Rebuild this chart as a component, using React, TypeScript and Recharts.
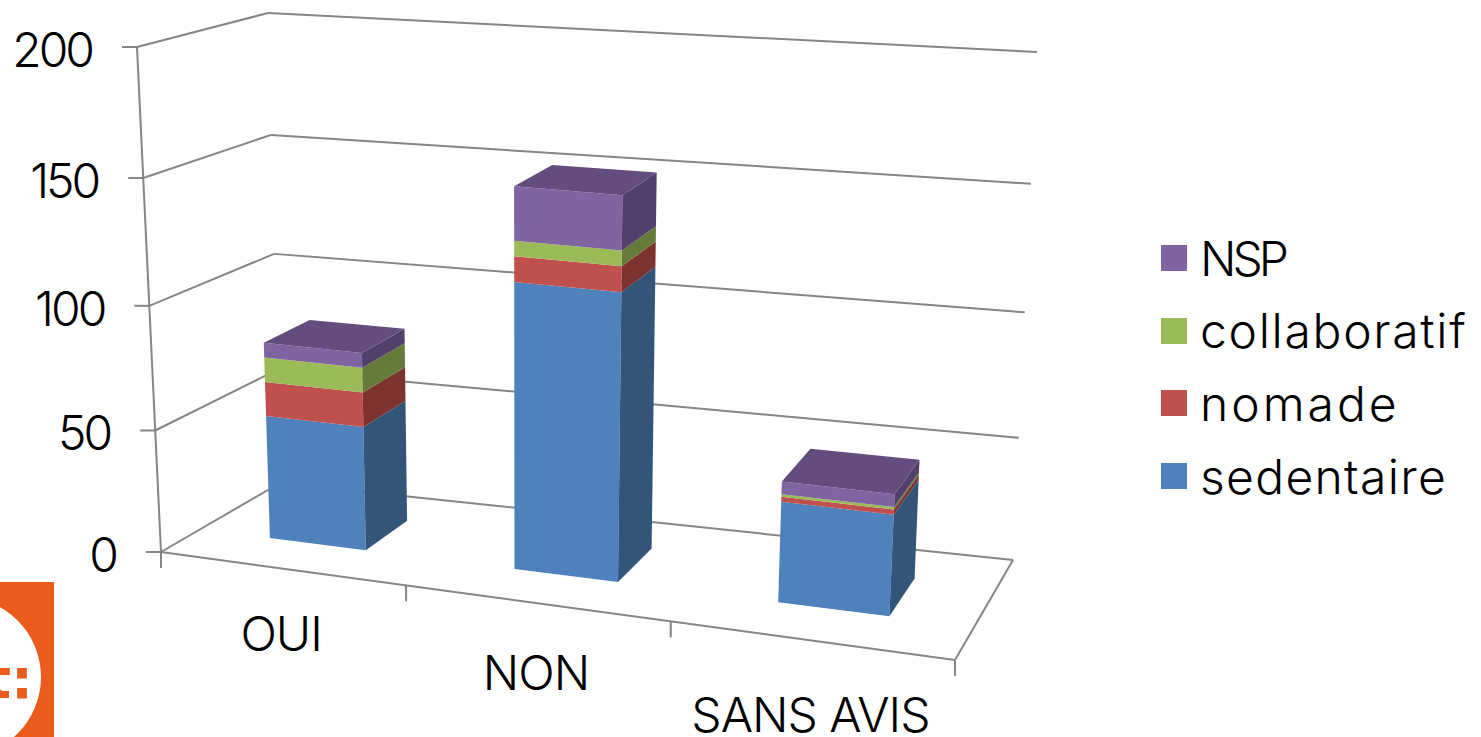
import { BarChart, Bar, XAxis, YAxis, Legend } from "recharts"

const categories = ["OUI", "NON", "SANS AVIS"]
const sedentaire = [51, 115, 40]
const nomade = [14, 10, 2]
const collaboratif = [10, 6, 1]
const nsp = [6, 21, 5]
const yTicks = [0, 50, 100, 150, 200]

const data = categories.map((name, i) => ({
  name,
  sedentaire: sedentaire[i],
  nomade: nomade[i],
  collaboratif: collaboratif[i],
  NSP: nsp[i],
}))

const FONT = "Inter, sans-serif"
const GRID = "#868686"

// plain 2d plot area handed to recharts, every mark is then projected from it
const PLOT = { left: 100, top: 50, width: 800, height: 500 }
const DEPTH_FRONT = 0.33
const DEPTH_BACK = 0.72

// corners of the 3d box on the picture
const corners = {
  a: [161, 552],
  b: [955, 660],
  c: [280, 483],
  d: [1013, 560],
  at: [137, 47],
  bt: [985, 114],
  ct: [268, 13],
  dt: [1037, 52],
}

const mix = (p: number[], q: number[], t: number) => [p[0] + (q[0] - p[0]) * t, p[1] + (q[1] - p[1]) * t]

// u: 0-1 along categories, d: 0-1 into the depth, v: 0-1 of the value axis
// the two small squares stand in for the perspective foreshortening
const project = (u: number, d: number, v: number) => {
  const w = 0.889 * u + 0.111 * u * u
  const h = 0.95 * v + 0.05 * v * v
  const low = mix(mix(corners.a, corners.b, w), mix(corners.c, corners.d, w), d)
  const high = mix(mix(corners.at, corners.bt, w), mix(corners.ct, corners.dt, w), d)
  return mix(low, high, h)
}

const poly = (pts: number[][]) => pts.map((p) => p.join(",")).join(" ")

const series = [
  { key: "sedentaire", front: "#4F81BD", side: "#335579" },
  { key: "nomade", front: "#C0504D", side: "#7D3230" },
  { key: "collaboratif", front: "#9BBB59", side: "#657B3A" },
  { key: "NSP", front: "#8064A2", side: "#533F6B", top: "#644D7E" },
]

const Box3D = (props: any) => {
  const { x, y, width, height, front, side, top } = props
  const u0 = (x - PLOT.left) / PLOT.width
  const u1 = (x + width - PLOT.left) / PLOT.width
  const v1 = 1 - (y - PLOT.top) / PLOT.height
  const v0 = 1 - (y + height - PLOT.top) / PLOT.height
  const f = DEPTH_FRONT
  const b = DEPTH_BACK
  return (
    <g>
      <polygon
        points={poly([project(u0, f, v0), project(u1, f, v0), project(u1, f, v1), project(u0, f, v1)])}
        fill={front}
      />
      <polygon
        points={poly([project(u1, f, v0), project(u1, b, v0), project(u1, b, v1), project(u1, f, v1)])}
        fill={side}
      />
      {top && (
        <polygon
          points={poly([project(u0, f, v1), project(u1, f, v1), project(u1, b, v1), project(u0, b, v1)])}
          fill={top}
        />
      )}
    </g>
  )
}

const Walls = () => {
  const seg = (p: number[], q: number[], key: string) => (
    <line key={key} x1={p[0]} y1={p[1]} x2={q[0]} y2={q[1]} stroke={GRID} strokeWidth={2} />
  )
  return (
    <g>
      {yTicks.map((t) => {
        const v = t / 200
        return (
          <g key={t}>
            {seg(project(0, 0, v), project(0, 1, v), `s${t}`)}
            {seg(project(0, 1, v), project(1, 1, v), `b${t}`)}
          </g>
        )
      })}
      {seg(project(0, 0, 0), project(0, 0, 1), "axis")}
      {seg(project(0, 0, 0), project(1, 0, 0), "front")}
      {seg(project(1, 0, 0), project(1, 1, 0), "right")}
      {[0, 1 / 3, 2 / 3, 1].map((u) => {
        const p = project(u, 0, 0)
        return seg(p, [p[0], p[1] + 16], `x${u}`)
      })}
    </g>
  )
}

const YTick = ({ payload }: any) => {
  const p = project(0, 0, payload.value / 200)
  return (
    <g>
      <line x1={p[0] - 15} y1={p[1]} x2={p[0]} y2={p[1]} stroke={GRID} strokeWidth={2} />
      <text
        x={p[0] - 45}
        y={p[1] + 20}
        textAnchor="end"
        fontSize={48}
        letterSpacing={-3}
        fontFamily={FONT}
        fontWeight={300}
        fill="#000"
      >
        {payload.value}
      </text>
    </g>
  )
}

const XTick = ({ x, payload }: any) => {
  const u = (x - PLOT.left) / PLOT.width
  const p = project(u, 0, 0)
  return (
    <text
      x={p[0]}
      y={p[1] + 80 + 14 * u}
      textAnchor="middle"
      fontSize={48}
      letterSpacing={-1}
      fontFamily={FONT}
      fontWeight={300}
      fill="#000"
    >
      {payload.value}
    </text>
  )
}

const legendSpacing = (key: string) => {
  if (key === "NSP") return -4
  if (key === "nomade") return 3
  if (key === "sedentaire") return 1.3
  return 1.7
}

const LegendList = () => (
  <div style={{ fontFamily: FONT, fontWeight: 300, fontSize: 48, color: "#000" }}>
    {[...series].reverse().map((s) => (
      <div key={s.key} style={{ display: "flex", alignItems: "center", height: 72.6 }}>
        <span style={{ width: 26, height: 26, background: s.front, marginRight: 13 }} />
        <span style={{ letterSpacing: legendSpacing(s.key) }}>{s.key}</span>
      </div>
    ))}
  </div>
)

const Logo = () => (
  <svg width={54} height={155} style={{ position: "absolute", left: 0, top: 582 }}>
    <rect width={54} height={155} fill="#EB5B1B" />
    <circle cx={-39} cy={95} r={80} fill="#fff" />
    <text x={33} y={116} textAnchor="end" fontSize={55} fontWeight={700} fontFamily="DejaVu Sans" fill="#EB5B1B">
      t:
    </text>
  </svg>
)

export default function App() {
  return (
    <div style={{ position: "relative", width: 1481, height: 737, overflow: "hidden", background: "#fff" }}>
      <style>{`body{margin:0}`}</style>
      <BarChart
        width={1481}
        height={737}
        data={data}
        barCategoryGap="30%"
        margin={{
          left: PLOT.left - 1,
          top: PLOT.top,
          right: 1481 - PLOT.left - PLOT.width,
          bottom: 737 - PLOT.top - PLOT.height - 1,
        }}
      >
        <Walls />
        <XAxis dataKey="name" height={1} axisLine={false} tickLine={false} tick={<XTick />} interval={0} />
        <YAxis domain={[0, 200]} ticks={yTicks} width={1} axisLine={false} tickLine={false} tick={<YTick />} />
        {series.map((s) => (
          <Bar
            key={s.key}
            dataKey={s.key}
            stackId="a"
            isAnimationActive={false}
            shape={(p: any) => <Box3D {...p} front={s.front} side={s.side} top={s.top} />}
          />
        ))}
        <Legend
          layout="horizontal"
          verticalAlign="middle"
          content={<LegendList />}
          wrapperStyle={{ position: "absolute", left: 1161, top: 222, width: 320, bottom: "auto" }}
        />
      </BarChart>
      <Logo />
    </div>
  )
}
